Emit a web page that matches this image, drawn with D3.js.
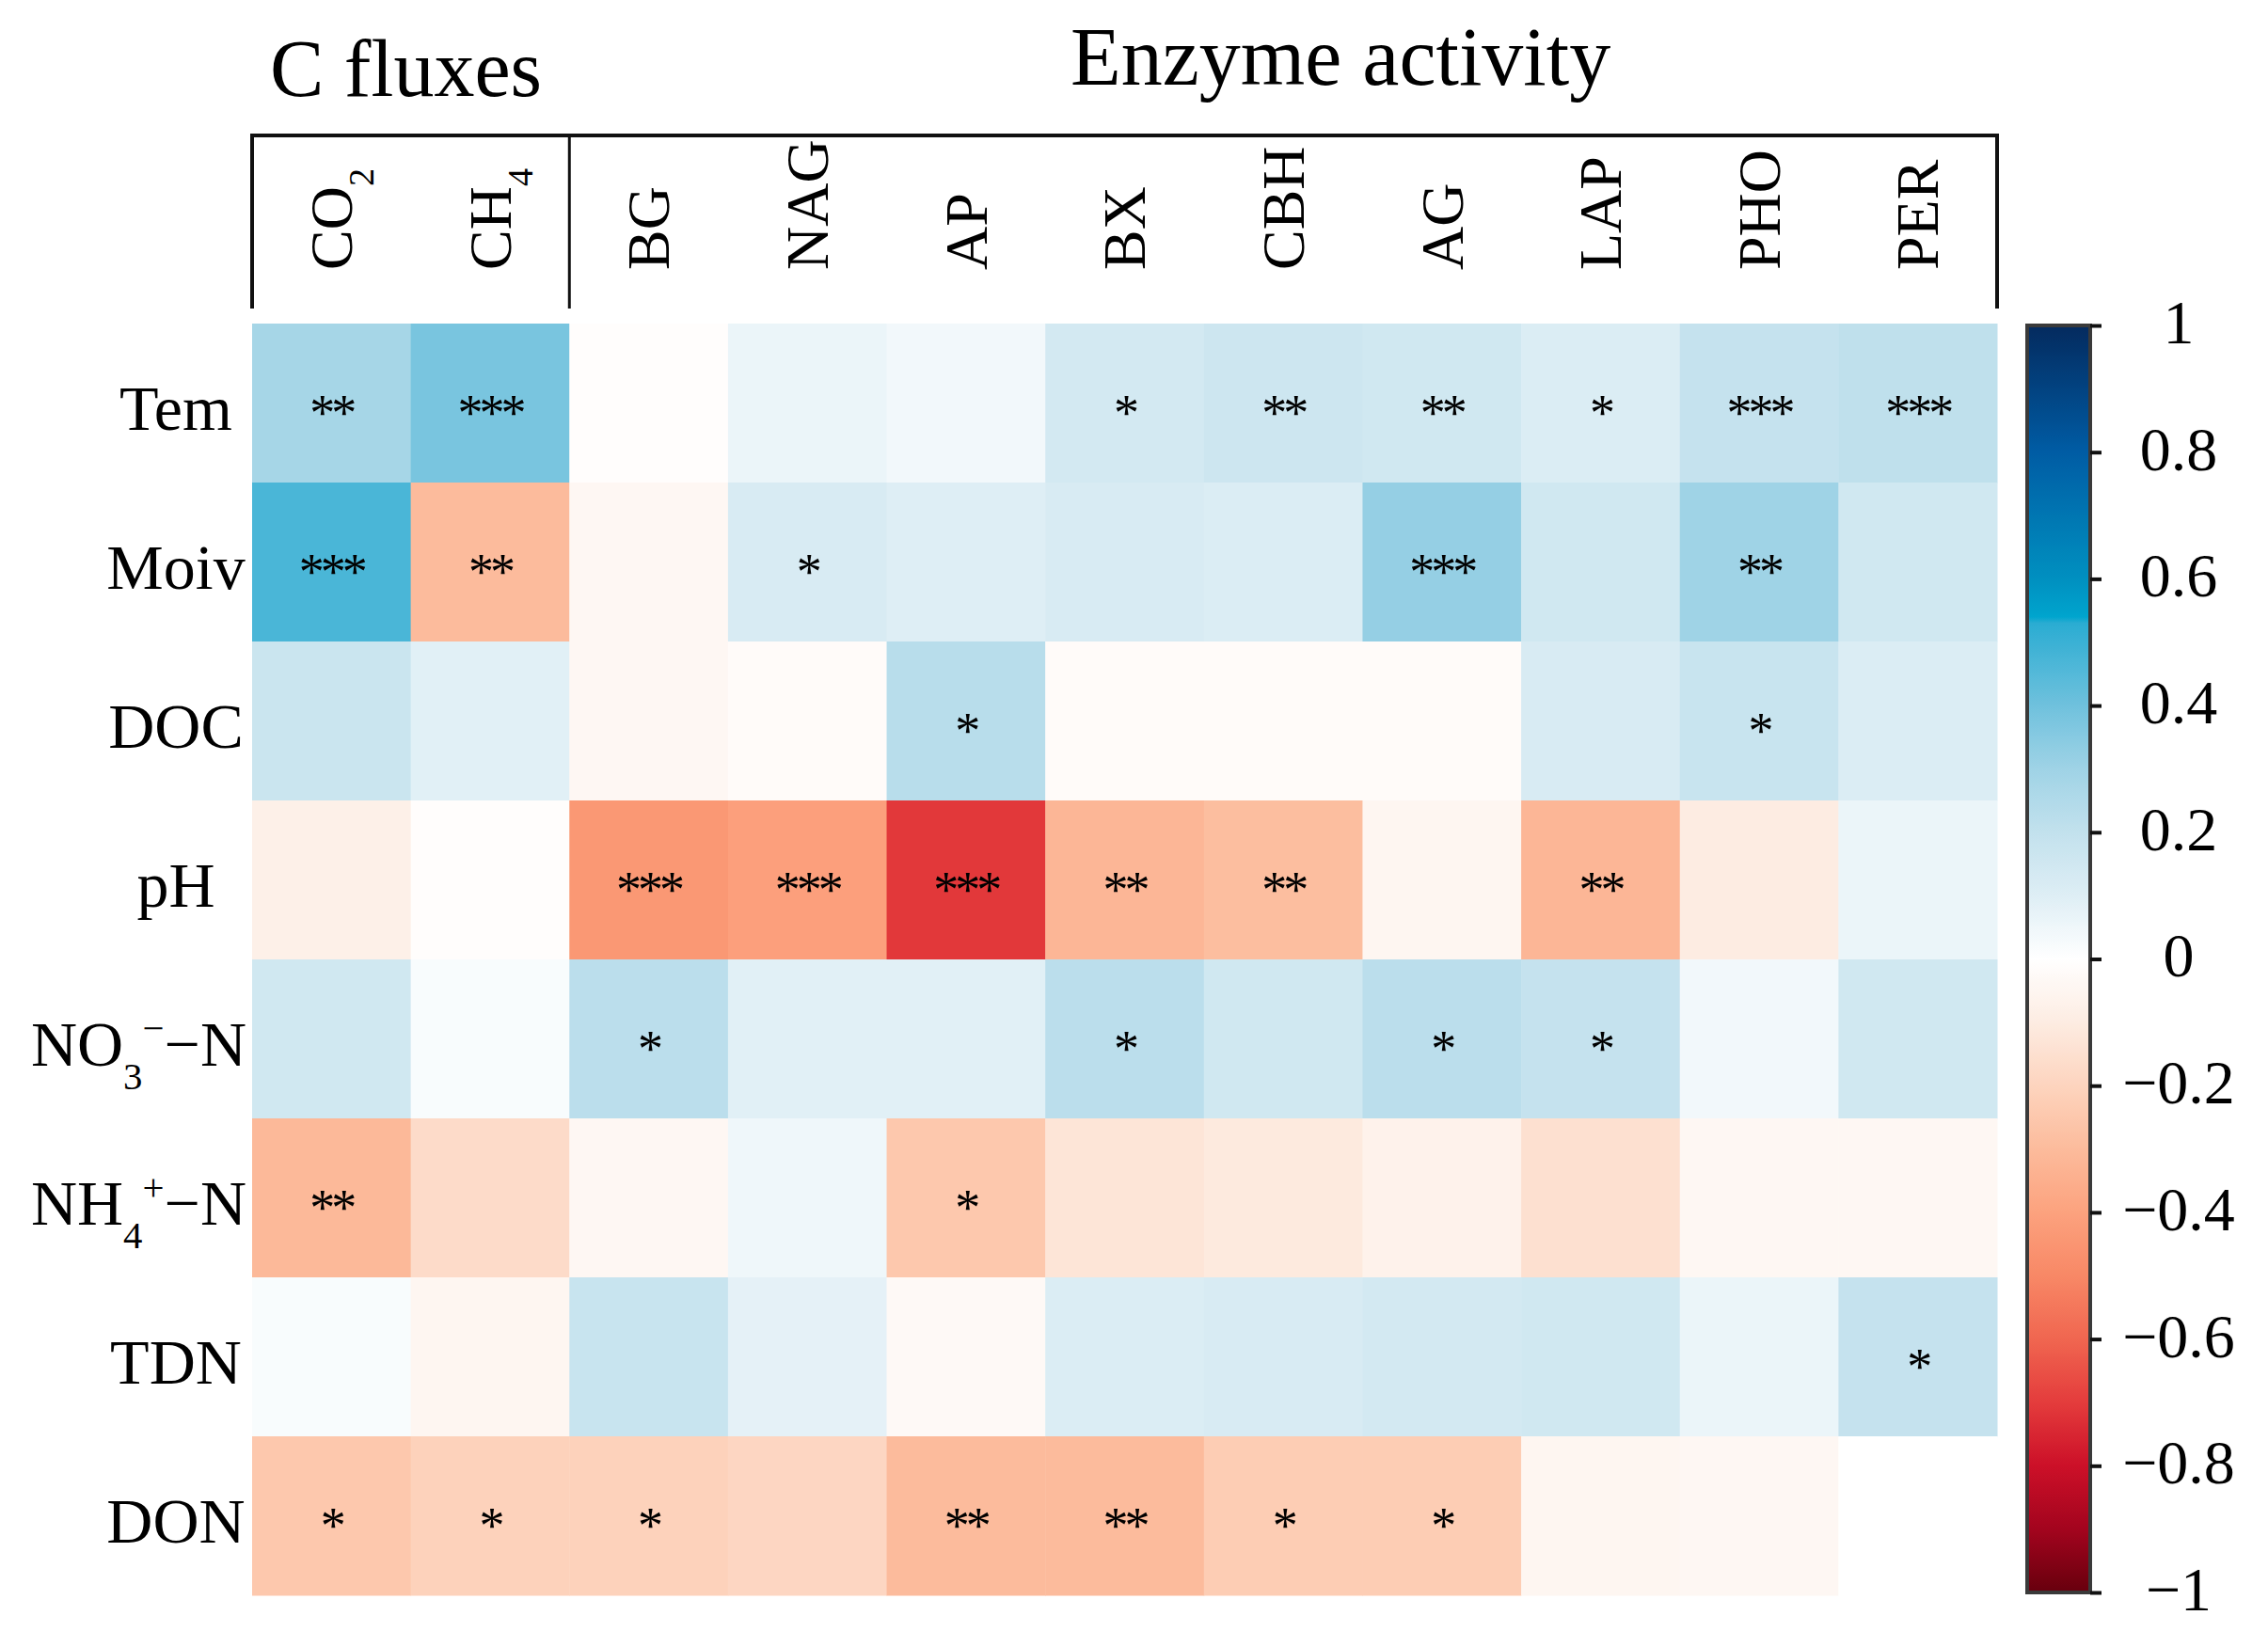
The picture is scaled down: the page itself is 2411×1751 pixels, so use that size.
<!DOCTYPE html>
<html>
<head>
<meta charset="utf-8">
<script src="https://cdn.jsdelivr.net/npm/d3@7"></script>
<style>
  body { margin: 0; background: #fff; }
  svg { display: block; font-family: "Liberation Serif", "Times New Roman", serif; }
</style>
</head>
<body>
<div id="chart"></div>
<script>
'use strict';

// Labels: "_x" = subscript, "^x" = superscript
const rowLabels = ['Tem', 'Moiv', 'DOC', 'pH', 'NO_3^−−N', 'NH_4^+−N', 'TDN', 'DON'];
const fluxCols = ['CO_2', 'CH_4'];
const enzymeCols = ['BG', 'NAG', 'AP', 'BX', 'CBH', 'AG', 'LAP', 'PHO', 'PER'];
const colLabels = fluxCols.concat(enzymeCols);

// Correlation coefficients (rows x columns)
const corrTem  = [0.28, 0.38, -0.01, 0.06, 0.04, 0.14, 0.16, 0.15, 0.11, 0.19, 0.21];
const corrMoiv = [0.47, -0.30, -0.04, 0.12, 0.10, 0.12, 0.11, 0.32, 0.15, 0.30, 0.15];
const corrDOC  = [0.17, 0.09, -0.04, -0.02, 0.23, -0.02, -0.02, -0.02, 0.12, 0.18, 0.11];
const corrPH   = [-0.08, -0.01, -0.44, -0.41, -0.71, -0.32, -0.29, -0.05, -0.32, -0.10, 0.06];
const corrNO3  = [0.15, 0.02, 0.22, 0.09, 0.09, 0.22, 0.15, 0.22, 0.19, 0.04, 0.15];
const corrNH4  = [-0.31, -0.17, -0.04, 0.05, -0.25, -0.13, -0.11, -0.07, -0.15, -0.04, -0.04];
const corrTDN  = [0.02, -0.05, 0.18, 0.08, -0.03, 0.11, 0.12, 0.14, 0.15, 0.06, 0.19];
const corrDON  = [-0.25, -0.21, -0.21, -0.19, -0.30, -0.30, -0.23, -0.23, -0.05, -0.04, 0.00];
const corr = [corrTem, corrMoiv, corrDOC, corrPH, corrNO3, corrNH4, corrTDN, corrDON];

// Significance marks
const sigTem  = ['**', '***', '', '', '', '*', '**', '**', '*', '***', '***'];
const sigMoiv = ['***', '**', '', '*', '', '', '', '***', '', '**', ''];
const sigDOC  = ['', '', '', '', '*', '', '', '', '', '*', ''];
const sigPH   = ['', '', '***', '***', '***', '**', '**', '', '**', '', ''];
const sigNO3  = ['', '', '*', '', '', '*', '', '*', '*', '', ''];
const sigNH4  = ['**', '', '', '', '*', '', '', '', '', '', ''];
const sigTDN  = ['', '', '', '', '', '', '', '', '', '', '*'];
const sigDON  = ['*', '*', '*', '', '**', '**', '*', '*', '', '', ''];
const sig = [sigTem, sigMoiv, sigDOC, sigPH, sigNO3, sigNH4, sigTDN, sigDON];

const colorTicks = [1, 0.8, 0.6, 0.4, 0.2, 0, -0.2, -0.4, -0.6, -0.8, -1];

// Colour map (blue positive, red negative)
const cmapStops = [-1, -0.9, -0.8, -0.7, -0.6, -0.5, -0.4, -0.3, -0.2, -0.1, 0,
                   0.1, 0.2, 0.3, 0.4, 0.53, 0.5301, 0.6, 0.8, 1];
const cmapColors = ['#67000d', '#a3041e', '#cc1028', '#e43c3c', '#f06650', '#f88866',
                    '#fca27e', '#fcbb9c', '#fdd4be', '#fdece2', '#ffffff',
                    '#deeef5', '#c2e1ed', '#9fd3e6', '#6fc1dd', '#2aacd2', '#00a8d0',
                    '#0090c0', '#005ca4', '#042a5e'];

const width = 2411, height = 1751;
const font = '"Liberation Serif", "Times New Roman", serif';

const svg = d3.select('#chart').append('svg')
  .attr('width', width)
  .attr('height', height);

const color = d3.scaleLinear().domain(cmapStops).range(cmapColors).clamp(true);

const x = d3.scaleBand().domain(colLabels).range([268, 2123]);
const y = d3.scaleBand().domain(rowLabels).range([344, 1696]);

// Write a label with sub/superscripts into a text element
function richText(sel, label, size) {
  sel.text(null);
  let shift = 0;
  for (let i = 0; i < label.length; i++) {
    let ch = label[i], kind = 'n';
    if ((ch === '_' || ch === '^') && i + 1 < label.length) {
      kind = ch; ch = label[++i];
    }
    const target = kind === '_' ? 0.36 * size : kind === '^' ? -0.38 * size : 0;
    sel.append('tspan')
      .attr('dy', target - shift)
      .style('font-size', kind === 'n' ? size + 'px' : (0.6 * size) + 'px')
      .text(ch);
    shift = target;
  }
}

// Heatmap cells
const cells = [];
corr.forEach((row, i) => row.forEach((v, j) => cells.push({ r: rowLabels[i], c: colLabels[j], v: v, s: sig[i][j] })));

svg.append('g').selectAll('rect')
  .data(cells)
  .enter().append('rect')
  .attr('x', d => x(d.c))
  .attr('y', d => y(d.r))
  .attr('width', x.bandwidth() + 0.5)
  .attr('height', y.bandwidth() + 0.5)
  .attr('fill', d => color(d.v));

svg.append('g').selectAll('text')
  .data(cells.filter(d => d.s))
  .enter().append('text')
  .attr('x', d => x(d.c) + x.bandwidth() / 2)
  .attr('y', d => y(d.r) + y.bandwidth() / 2)
  .attr('dy', '0.52em')
  .attr('text-anchor', 'middle')
  .style('font-size', '54px')
  .style('letter-spacing', '-4px')
  .text(d => d.s);

// Row labels
const rowSize = 68;
svg.append('g').selectAll('text')
  .data(rowLabels)
  .enter().append('text')
  .attr('y', d => y(d) + y.bandwidth() / 2 + 0.42 * rowSize)
  .attr('text-anchor', 'middle')
  .each(function(d) { richText(d3.select(this), d, rowSize); })
  .attr('x', function() {
    const w = this.getComputedTextLength();
    return Math.min(187, 262 - w / 2);
  });

// Column labels (rotated)
const colSize = 64;
svg.append('g').selectAll('text')
  .data(colLabels)
  .enter().append('text')
  .attr('transform', d => `translate(${x(d) + x.bandwidth() / 2 + 0.34 * colSize}, 287) rotate(-90)`)
  .attr('text-anchor', 'start')
  .each(function(d) { richText(d3.select(this), d, colSize); });

// Group bracket
const bracketTop = 144, bracketBottom = 328;
const bracket = svg.append('g')
  .attr('fill', 'none')
  .attr('stroke', '#111')
  .attr('stroke-width', 4);
bracket.append('path')
  .attr('d', `M${x.range()[0]},${bracketBottom}V${bracketTop}H${x.range()[1]}V${bracketBottom}`);
bracket.append('line')
  .attr('x1', x(enzymeCols[0])).attr('x2', x(enzymeCols[0]))
  .attr('y1', bracketTop).attr('y2', bracketBottom)
  .attr('stroke-width', 3);

// Group titles
svg.append('text')
  .attr('x', 287).attr('y', 102)
  .style('font-size', '86px')
  .text('C fluxes');
svg.append('text')
  .attr('x', 1138).attr('y', 90)
  .style('font-size', '88px')
  .text('Enzyme activity');

// Colour bar
const cbX = 2155, cbW = 67;
const cb = d3.scaleLinear().domain([-1, 1]).range([1693, 346]);

const grad = svg.append('defs').append('linearGradient')
  .attr('id', 'cbgrad')
  .attr('x1', 0).attr('y1', 1).attr('x2', 0).attr('y2', 0);
grad.selectAll('stop')
  .data(d3.range(-1, 1.0001, 0.01))
  .enter().append('stop')
  .attr('offset', d => (d + 1) / 2)
  .attr('stop-color', d => color(d));

svg.append('rect')
  .attr('x', cbX).attr('y', cb(1))
  .attr('width', cbW).attr('height', cb(-1) - cb(1))
  .attr('fill', 'url(#cbgrad)')
  .attr('stroke', '#3a3a3a')
  .attr('stroke-width', 4);

const cbAxis = svg.append('g')
  .attr('transform', `translate(${cbX + cbW}, 0)`)
  .call(d3.axisRight(cb).tickValues(colorTicks).tickSize(12)
    .tickFormat(d => d < 0 ? '−' + Math.abs(d) : String(d)));
cbAxis.select('.domain').remove();
cbAxis.selectAll('.tick line').attr('stroke', '#111').attr('stroke-width', 4);
cbAxis.selectAll('.tick text')
  .attr('x', 2316 - cbX - cbW)
  .attr('dy', '0.28em')
  .attr('text-anchor', 'middle')
  .attr('fill', '#000')
  .style('font-family', font)
  .style('font-size', '66px');
</script>
</body>
</html>
